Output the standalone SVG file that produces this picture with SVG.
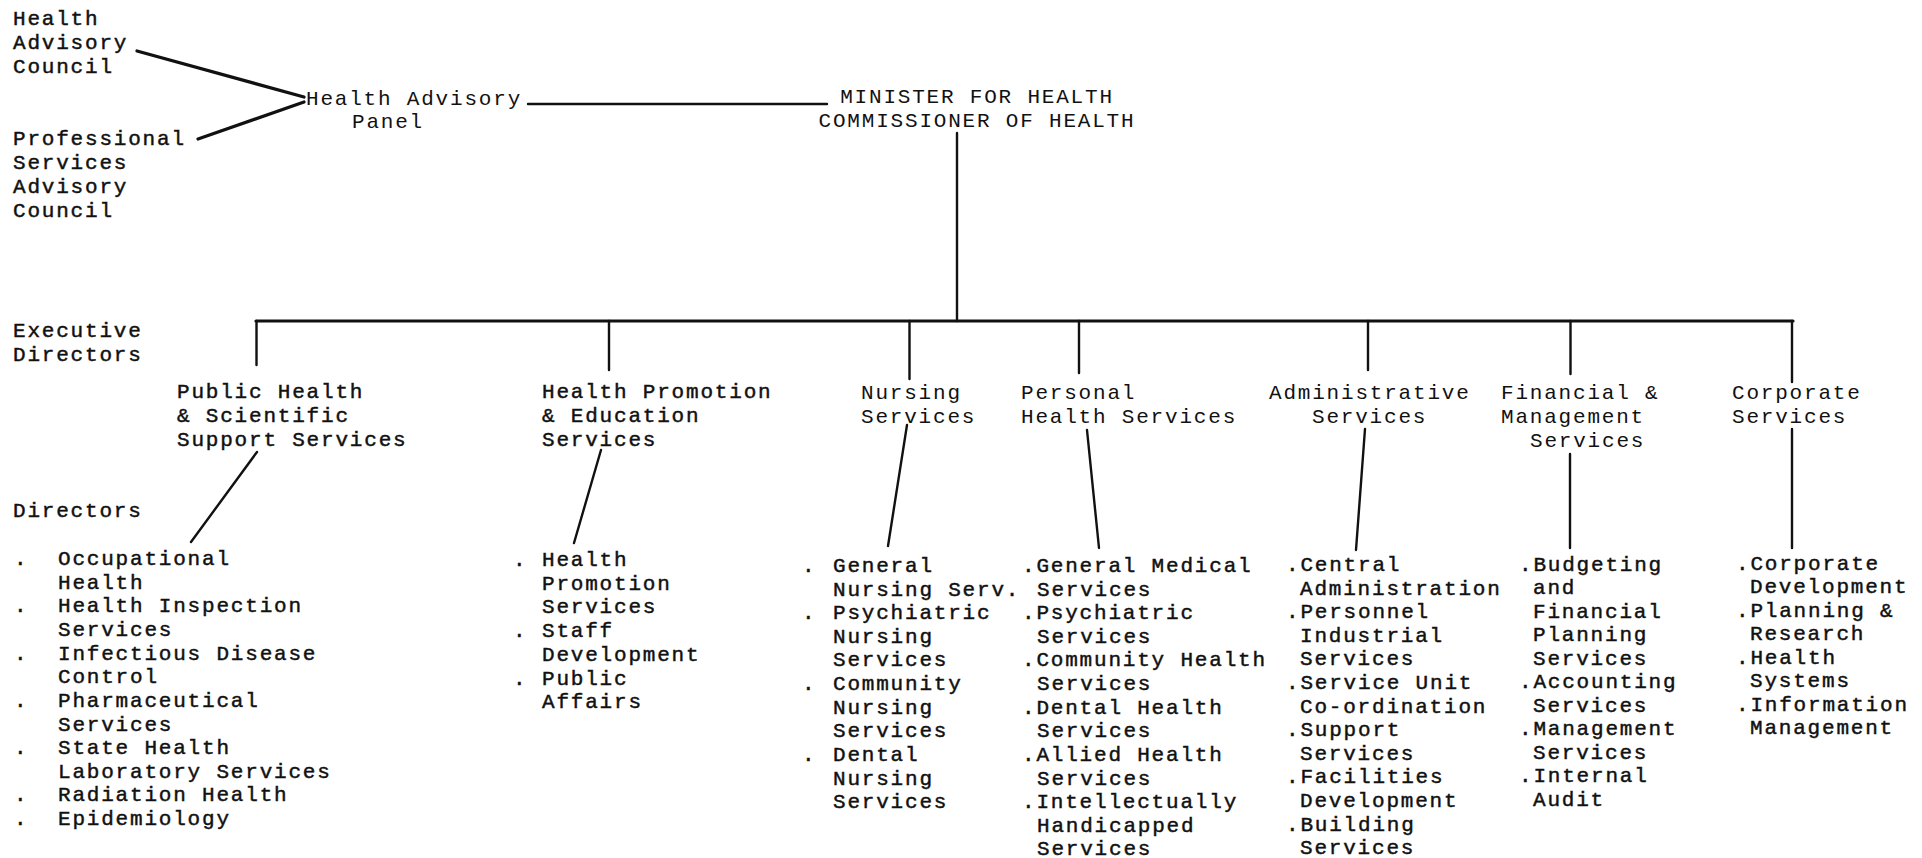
<svg xmlns="http://www.w3.org/2000/svg" width="1922" height="858" viewBox="0 0 1922 858">
<style>
.t{font-family:"Liberation Mono","DejaVu Sans Mono",monospace;font-size:21px;letter-spacing:1.8px;fill:#111;}
.b{stroke:#111;stroke-width:0.45px;}
.c{stroke:#111;fill:none;stroke-linecap:round;}
.w3{stroke-width:3.2px;}
.w2{stroke-width:2.4px;}
</style>
<rect width="1922" height="858" fill="#fff"/>
<g id="connectors">
<path class="c w3" d="M137,51 L304,97"/>
<path class="c w3" d="M198,139 L304,102"/>
<path class="c w2" d="M528,104 L827,104"/>
<path class="c w2" d="M957,133 L957,321"/>
<path class="c w3" d="M256,321 L1793,321"/>
<path class="c w2" d="M256.5,321 V365 M609,321 V370 M909.5,321 V379 M1079,321 V373 M1368,321 V370 M1570.5,321 V374 M1792,321 V382"/>
<path class="c w2" d="M257,452 L191,542 M601,450 L574,543 M907,425 L888,546 M1087,430 L1099,548 M1365,429 L1356,550 M1570,454 V548 M1792,429 V548"/>
</g>
<g id="nodes" transform="translate(0,2)">
<g id="health-advisory-council"><text class="t b"><tspan x="13" y="23">Health</tspan><tspan x="13" y="47">Advisory</tspan><tspan x="13" y="71">Council</tspan></text></g>
<g id="professional-services-advisory-council"><text class="t b"><tspan x="13" y="143">Professional</tspan><tspan x="13" y="167">Services</tspan><tspan x="13" y="191">Advisory</tspan><tspan x="13" y="215">Council</tspan></text></g>
<g id="health-advisory-panel"><text class="t"><tspan x="306" y="103">Health Advisory</tspan><tspan x="352" y="126">Panel</tspan></text></g>
<g id="minister"><text class="t" text-anchor="middle"><tspan x="977" y="101">MINISTER FOR HEALTH</tspan><tspan x="977" y="125">COMMISSIONER OF HEALTH</tspan></text></g>
<g id="label-executive-directors"><text class="t b"><tspan x="13" y="335">Executive</tspan><tspan x="13" y="359">Directors</tspan></text></g>
<g id="label-directors"><text class="t b"><tspan x="13" y="515">Directors</tspan></text></g>
<g id="ed-public-health"><text class="t b"><tspan x="177" y="396">Public Health</tspan><tspan x="177" y="420">&amp; Scientific</tspan><tspan x="177" y="444">Support Services</tspan></text></g>
<g id="ed-health-promotion"><text class="t b"><tspan x="542" y="396">Health Promotion</tspan><tspan x="542" y="420">&amp; Education</tspan><tspan x="542" y="444">Services</tspan></text></g>
<g id="ed-nursing"><text class="t"><tspan x="861" y="397">Nursing</tspan><tspan x="861" y="421">Services</tspan></text></g>
<g id="ed-personal-health"><text class="t"><tspan x="1021" y="397">Personal</tspan><tspan x="1021" y="421">Health Services</tspan></text></g>
<g id="ed-administrative"><text class="t"><tspan x="1269" y="397">Administrative</tspan><tspan x="1312" y="421">Services</tspan></text></g>
<g id="ed-financial"><text class="t"><tspan x="1501" y="397">Financial &amp;</tspan><tspan x="1501" y="421">Management</tspan><tspan x="1530" y="445">Services</tspan></text></g>
<g id="ed-corporate"><text class="t"><tspan x="1732" y="397">Corporate</tspan><tspan x="1732" y="421">Services</tspan></text></g>
<g id="d-public-health"><text class="t b">
<tspan x="14" y="563">.</tspan><tspan x="58" y="563">Occupational</tspan><tspan x="58" y="587">Health</tspan>
<tspan x="14" y="610">.</tspan><tspan x="58" y="610">Health Inspection</tspan><tspan x="58" y="634">Services</tspan>
<tspan x="14" y="658">.</tspan><tspan x="58" y="658">Infectious Disease</tspan><tspan x="58" y="681">Control</tspan>
<tspan x="14" y="705">.</tspan><tspan x="58" y="705">Pharmaceutical</tspan><tspan x="58" y="729">Services</tspan>
<tspan x="14" y="752">.</tspan><tspan x="58" y="752">State Health</tspan><tspan x="58" y="776">Laboratory Services</tspan>
<tspan x="14" y="799">.</tspan><tspan x="58" y="799">Radiation Health</tspan>
<tspan x="14" y="823">.</tspan><tspan x="58" y="823">Epidemiology</tspan></text></g>
<g id="d-health-promotion"><text class="t b">
<tspan x="513" y="564">.</tspan><tspan x="542" y="564">Health</tspan><tspan x="542" y="588">Promotion</tspan><tspan x="542" y="611">Services</tspan>
<tspan x="513" y="635">.</tspan><tspan x="542" y="635">Staff</tspan><tspan x="542" y="659">Development</tspan>
<tspan x="513" y="683">.</tspan><tspan x="542" y="683">Public</tspan><tspan x="542" y="706">Affairs</tspan></text></g>
<g id="d-nursing"><text class="t b">
<tspan x="802" y="570">.</tspan><tspan x="833" y="570">General</tspan><tspan x="833" y="594">Nursing Serv.</tspan>
<tspan x="802" y="617">.</tspan><tspan x="833" y="617">Psychiatric</tspan><tspan x="833" y="641">Nursing</tspan><tspan x="833" y="664">Services</tspan>
<tspan x="802" y="688">.</tspan><tspan x="833" y="688">Community</tspan><tspan x="833" y="712">Nursing</tspan><tspan x="833" y="735">Services</tspan>
<tspan x="802" y="759">.</tspan><tspan x="833" y="759">Dental</tspan><tspan x="833" y="783">Nursing</tspan><tspan x="833" y="806">Services</tspan></text></g>
<g id="d-personal-health"><text class="t b">
<tspan x="1022" y="570">.General Medical</tspan><tspan x="1037" y="594">Services</tspan>
<tspan x="1022" y="617">.Psychiatric</tspan><tspan x="1037" y="641">Services</tspan>
<tspan x="1022" y="664">.Community Health</tspan><tspan x="1037" y="688">Services</tspan>
<tspan x="1022" y="712">.Dental Health</tspan><tspan x="1037" y="735">Services</tspan>
<tspan x="1022" y="759">.Allied Health</tspan><tspan x="1037" y="783">Services</tspan>
<tspan x="1022" y="806">.Intellectually</tspan><tspan x="1037" y="830">Handicapped</tspan><tspan x="1037" y="853">Services</tspan></text></g>
<g id="d-administrative"><text class="t b">
<tspan x="1286" y="569">.Central</tspan><tspan x="1300" y="593">Administration</tspan>
<tspan x="1286" y="616">.Personnel</tspan><tspan x="1300" y="640">Industrial</tspan><tspan x="1300" y="663">Services</tspan>
<tspan x="1286" y="687">.Service Unit</tspan><tspan x="1300" y="711">Co-ordination</tspan>
<tspan x="1286" y="734">.Support</tspan><tspan x="1300" y="758">Services</tspan>
<tspan x="1286" y="781">.Facilities</tspan><tspan x="1300" y="805">Development</tspan>
<tspan x="1286" y="829">.Building</tspan><tspan x="1300" y="852">Services</tspan></text></g>
<g id="d-financial"><text class="t b">
<tspan x="1519" y="569">.Budgeting</tspan><tspan x="1533" y="592">and</tspan><tspan x="1533" y="616">Financial</tspan><tspan x="1533" y="639">Planning</tspan><tspan x="1533" y="663">Services</tspan>
<tspan x="1519" y="686">.Accounting</tspan><tspan x="1533" y="710">Services</tspan>
<tspan x="1519" y="733">.Management</tspan><tspan x="1533" y="757">Services</tspan>
<tspan x="1519" y="780">.Internal</tspan><tspan x="1533" y="804">Audit</tspan></text></g>
<g id="d-corporate"><text class="t b">
<tspan x="1736" y="568">.Corporate</tspan><tspan x="1750" y="591">Development</tspan>
<tspan x="1736" y="615">.Planning &amp;</tspan><tspan x="1750" y="638">Research</tspan>
<tspan x="1736" y="662">.Health</tspan><tspan x="1750" y="685">Systems</tspan>
<tspan x="1736" y="709">.Information</tspan><tspan x="1750" y="732">Management</tspan></text></g>
</g>
</svg>
